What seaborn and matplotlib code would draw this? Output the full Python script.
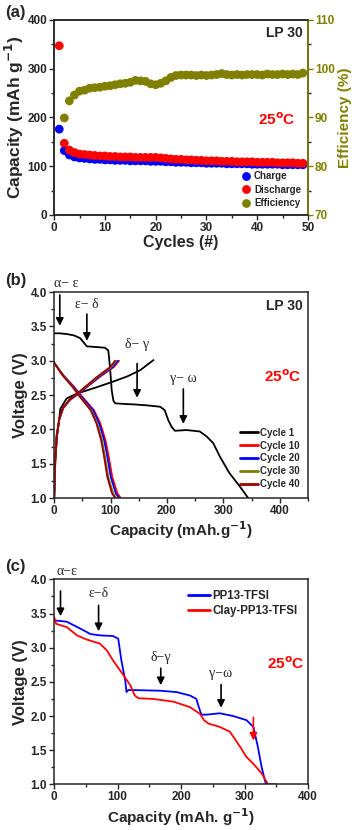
import seaborn as sns
import matplotlib.pyplot as plt
import matplotlib.ticker as mticker
from matplotlib.lines import Line2D
import pandas as pd
import numpy as np

# ---- panel (a): cycling data ----
cycles = list(range(1, 50))
charge = [176, 132, 123, 119, 117, 116, 115, 114, 114, 113,
          113, 112, 112, 112, 111, 111, 111, 111, 110, 110,
          110, 109, 109, 108, 108, 108, 107, 107, 107, 106,
          106, 106, 106, 105, 105, 105, 105, 105, 104, 104,
          104, 104, 104, 104, 103, 103, 103, 103, 103]
discharge = [347, 147, 133, 128, 125, 124, 123, 122, 121, 121,
             120, 120, 119, 119, 119, 118, 118, 118, 118, 118,
             117, 116, 115, 114, 114, 113, 113, 112, 112, 111,
             111, 111, 110, 110, 110, 109, 109, 109, 109, 108,
             108, 108, 108, 107, 107, 107, 107, 106, 106]
efficiency = [50.7, 89.9, 93.4, 94.6, 95.4, 95.6, 96.0, 96.1, 96.2, 96.4,
              96.5, 96.7, 96.9, 97.0, 97.2, 97.6, 97.5, 97.4, 96.9, 96.7,
              97.0, 97.5, 98.2, 98.6, 98.7, 98.7, 98.7, 98.6, 98.7, 98.6,
              98.7, 98.8, 99.0, 98.8, 98.7, 98.8, 98.7, 98.8, 98.8, 98.8,
              98.7, 98.9, 98.8, 98.8, 98.9, 98.8, 98.9, 98.8, 99.1]

# ---- panel (b): voltage profiles in LP 30 ----
c1_dis_cap = [0, 10, 22, 35, 46, 58, 75, 90, 96, 99, 102, 105, 108, 125, 140, 165, 188,
              196, 202, 208, 214, 235, 258, 270, 282, 294, 311, 329, 344]
c1_dis_v = [3.40, 3.40, 3.39, 3.37, 3.33, 3.21, 3.20, 3.19, 3.15, 2.91, 2.57, 2.42, 2.38,
            2.37, 2.365, 2.35, 2.33, 2.28, 2.14, 2.04, 1.98, 1.99, 1.97, 1.90, 1.80, 1.60,
            1.36, 1.17, 1.00]
c1_ch_cap = [0, 2, 4, 8, 11, 22, 40, 70, 99, 129, 152, 176]
c1_ch_v = [1.00, 1.60, 1.90, 2.09, 2.30, 2.45, 2.52, 2.60, 2.68, 2.77, 2.86, 3.01]

ch_cap = [0, 2, 5, 9, 16, 28, 43, 58, 81, 105, 114]
ch_v = [1.00, 1.55, 1.90, 2.14, 2.31, 2.43, 2.52, 2.62, 2.77, 2.91, 3.00]
dis_cap = [0, 16, 34, 52, 70, 81, 90, 96, 102, 111, 117]
dis_v = [2.97, 2.79, 2.63, 2.45, 2.28, 2.09, 1.85, 1.60, 1.31, 1.07, 1.00]
cycle_names = ['Cycle 10', 'Cycle 20', 'Cycle 30', 'Cycle 40']
cycle_colors = ['#ff0000', '#0000ff', '#808000', '#990000']
ch_end = [115, 113, 110, 108]
dis_end = [118, 115, 110, 108]

# ---- panel (c): ionic liquid electrolytes ----
pp13_cap = [0, 20, 41, 57, 72, 93, 101, 106, 112, 114, 117, 125, 167, 193, 214, 224, 228,
            232, 240, 261, 282, 303, 314, 321, 327, 332, 334, 350]
pp13_v = [3.40, 3.38, 3.28, 3.20, 3.18, 3.17, 3.13, 2.81, 2.52, 2.35, 2.38, 2.38, 2.37,
          2.35, 2.30, 2.25, 2.13, 2.02, 2.02, 2.04, 2.00, 1.94, 1.84, 1.55, 1.25, 1.06,
          1.00, 1.00]
clay_cap = [0, 3, 20, 36, 51, 72, 83, 93, 109, 120, 127, 133, 156, 188, 214, 230, 236,
            243, 261, 277, 293, 303, 314, 327, 337]
clay_v = [3.45, 3.35, 3.30, 3.18, 3.12, 3.06, 2.96, 2.81, 2.60, 2.45, 2.30, 2.26, 2.25,
          2.21, 2.13, 2.03, 1.94, 1.89, 1.84, 1.77, 1.55, 1.40, 1.30, 1.16, 1.00]

sns.set_style('ticks')
plt.rcParams['font.family'] = ['Liberation Sans', 'DejaVu Sans']
plt.rcParams['font.weight'] = 'bold'
plt.rcParams['axes.labelweight'] = 'bold'
plt.rcParams['axes.linewidth'] = 1.1
plt.rcParams['xtick.direction'] = 'out'
plt.rcParams['ytick.direction'] = 'out'

fig = plt.figure(figsize=(3.54, 8.30), dpi=100)
ax_a = fig.add_axes([0.153, 0.741, 0.717, 0.235])
ax_b = fig.add_axes([0.153, 0.400, 0.717, 0.248])
ax_c = fig.add_axes([0.153, 0.055, 0.717, 0.247])

serif = ['Liberation Serif', 'DejaVu Serif']


def style(ax):
    ax.tick_params(labelsize=8.5, width=1.0, length=3.5, pad=1.5)
    ax.tick_params(which='minor', width=1.0, length=2)
    for lbl in ax.get_xticklabels() + ax.get_yticklabels():
        lbl.set_fontweight('bold')


# ---- (a) ----
df_a = pd.DataFrame({'Cycle': cycles, 'Charge': charge, 'Discharge': discharge})
sns.scatterplot(data=df_a, x='Cycle', y='Charge', ax=ax_a, color='#0000ff', s=40,
                edgecolor='none', zorder=3)
sns.scatterplot(data=df_a, x='Cycle', y='Discharge', ax=ax_a, color='#ff0000', s=40,
                edgecolor='none', zorder=3)
ax_a2 = ax_a.twinx()
sns.scatterplot(x=cycles, y=efficiency, ax=ax_a2, color='#808000', s=40,
                edgecolor='none', zorder=3)
ax_a.set_xlim(0, 50)
ax_a.set_ylim(0, 400)
ax_a2.set_ylim(70, 110)
ax_a.xaxis.set_major_locator(mticker.MultipleLocator(10))
ax_a.xaxis.set_minor_locator(mticker.MultipleLocator(5))
ax_a.yaxis.set_major_locator(mticker.MultipleLocator(100))
ax_a.yaxis.set_minor_locator(mticker.MultipleLocator(50))
ax_a2.yaxis.set_major_locator(mticker.MultipleLocator(10))
ax_a2.yaxis.set_minor_locator(mticker.MultipleLocator(5))
ax_a.set_xlabel('Cycles (#)', fontsize=11.5, labelpad=1)
ax_a.set_ylabel('Capacity (mAh g$^{\\mathbf{-1}}$)', fontsize=12.5, labelpad=1)
ax_a2.set_ylabel('Efficiency (%)', fontsize=11, color='#808000', labelpad=2)
style(ax_a)
style(ax_a2)
ax_a2.tick_params(axis='y', colors='#808000')
ax_a2.spines['right'].set_color('#808000')
ax_a2.spines['right'].set_linewidth(1.1)
handles = [Line2D([], [], ls='none', marker='o', ms=6.3, mec='none', color=c)
           for c in ['#0000ff', '#ff0000', '#808000']]
ax_a.legend(handles, ['Charge', 'Discharge', 'Efficiency'], loc='lower right',
            frameon=False, fontsize=7, handletextpad=0.2, handlelength=1.2,
            labelspacing=0.35, borderaxespad=0.3)
ax_a.text(0.98, 0.933, 'LP 30', transform=ax_a.transAxes, ha='right', va='center',
          fontsize=10, fontweight='bold')
ax_a.text(0.95, 0.487, '25$^{\\mathbf{o}}$C', transform=ax_a.transAxes, ha='right',
          va='center', fontsize=11, fontweight='bold', color='#ff0000')

# ---- (b) ----
sns.lineplot(x=c1_dis_cap, y=c1_dis_v, ax=ax_b, color='black', lw=1.3, sort=False,
             label='Cycle 1')
sns.lineplot(x=c1_ch_cap, y=c1_ch_v, ax=ax_b, color='black', lw=1.3, sort=False)
for name, col, ce, de in zip(cycle_names, cycle_colors, ch_end, dis_end):
    cc = [c * ce / ch_cap[-1] for c in ch_cap]
    dc = [c * de / dis_cap[-1] for c in dis_cap]
    sns.lineplot(x=dc, y=dis_v, ax=ax_b, color=col, lw=1.3, sort=False, label=name)
    sns.lineplot(x=cc, y=ch_v, ax=ax_b, color=col, lw=1.3, sort=False)
ax_b.set_xlim(0, 450)
ax_b.set_ylim(1.0, 4.0)
ax_b.xaxis.set_major_locator(mticker.MultipleLocator(100))
ax_b.xaxis.set_minor_locator(mticker.MultipleLocator(50))
ax_b.yaxis.set_major_locator(mticker.MultipleLocator(0.5))
ax_b.yaxis.set_minor_locator(mticker.MultipleLocator(0.25))
ax_b.yaxis.set_major_formatter(mticker.FormatStrFormatter('%.1f'))
ax_b.set_xlabel('Capacity (mAh.g$^{\\mathbf{-1}}$)', fontsize=11, labelpad=2)
ax_b.set_ylabel('Voltage (V)', fontsize=12, labelpad=2)
style(ax_b)
leg_b = ax_b.legend(loc='lower right', frameon=False, fontsize=7, handlelength=1.9,
                    handletextpad=0.15, labelspacing=0.3, borderaxespad=0.5)
for ln in leg_b.get_lines():
    ln.set_linewidth(2.0)
ax_b.text(0.98, 0.933, 'LP 30', transform=ax_b.transAxes, ha='right', va='center',
          fontsize=10, fontweight='bold')
ax_b.text(0.975, 0.59, '25$^{\\mathbf{o}}$C', transform=ax_b.transAxes, ha='right',
          va='center', fontsize=11, fontweight='bold', color='#ff0000')
arrow_kw = dict(arrowstyle='-|>', color='black', lw=1.2, mutation_scale=11)
for tx, ty, label, ytop, ybot in [(10, 4.12, 'α− ε', 4.0, 3.47),
                                   (58, 3.82, 'ε− δ', 3.72, 3.25),
                                   (147, 3.23, 'δ− γ', 3.0, 2.42),
                                   (229, 2.74, 'γ− ω', 2.63, 2.04)]:
    ax_b.annotate('', xy=(tx, ybot), xytext=(tx, ytop), arrowprops=arrow_kw,
                  annotation_clip=False)
    ax_b.text(tx + (12 if label.startswith('α') else 0), ty, label, ha='center',
              va='center', fontsize=10, family=serif, fontweight='normal', clip_on=False)

# ---- (c) ----
sns.lineplot(x=pp13_cap, y=pp13_v, ax=ax_c, color='#0000ff', lw=1.3, sort=False,
             label='PP13-TFSI')
sns.lineplot(x=clay_cap, y=clay_v, ax=ax_c, color='#ff0000', lw=1.3, sort=False,
             label='Clay-PP13-TFSI')
ax_c.set_xlim(0, 400)
ax_c.set_ylim(1.0, 4.0)
ax_c.xaxis.set_major_locator(mticker.MultipleLocator(100))
ax_c.xaxis.set_minor_locator(mticker.MultipleLocator(50))
ax_c.yaxis.set_major_locator(mticker.MultipleLocator(0.5))
ax_c.yaxis.set_minor_locator(mticker.MultipleLocator(0.25))
ax_c.yaxis.set_major_formatter(mticker.FormatStrFormatter('%.1f'))
ax_c.set_xlabel('Capacity (mAh. g$^{\\mathbf{-1}}$)', fontsize=11, labelpad=2)
ax_c.set_ylabel('Voltage (V)', fontsize=12, labelpad=2)
style(ax_c)
leg_c = ax_c.legend(loc='upper right', frameon=False, fontsize=8.3, handlelength=1.9,
                    handletextpad=0.2, labelspacing=0.25, borderaxespad=0.5)
for ln in leg_c.get_lines():
    ln.set_linewidth(2.0)
ax_c.text(0.985, 0.59, '25$^{\\mathbf{o}}$C', transform=ax_c.transAxes, ha='right',
          va='center', fontsize=11, fontweight='bold', color='#ff0000')
for tx, ty, label, ytop, ybot in [(10, 4.12, 'α−ε', 3.87, 3.42),
                                   (70, 3.79, 'ε−δ', 3.66, 3.20),
                                   (168, 2.86, 'δ−γ', 2.74, 2.41),
                                   (263, 2.62, 'γ−ω', 2.50, 2.08)]:
    ax_c.annotate('', xy=(tx, ybot), xytext=(tx, ytop), arrowprops=arrow_kw,
                  annotation_clip=False)
    ax_c.text(tx + (10 if label.startswith('α') else 0), ty, label, ha='center',
              va='center', fontsize=10, family=serif, fontweight='normal', clip_on=False)
ax_c.annotate('', xy=(314, 1.60), xytext=(314, 2.02),
              arrowprops=dict(arrowstyle='-|>', color='#ff0000', lw=1.2, mutation_scale=11))

# panel letters
fig.text(0.015, 0.994, '(a)', fontsize=12, fontweight='bold', va='top')
fig.text(0.015, 0.671, '(b)', fontsize=12, fontweight='bold', va='top')
fig.text(0.015, 0.327, '(c)', fontsize=12, fontweight='bold', va='top')

fig.savefig('out.png', dpi=100)
